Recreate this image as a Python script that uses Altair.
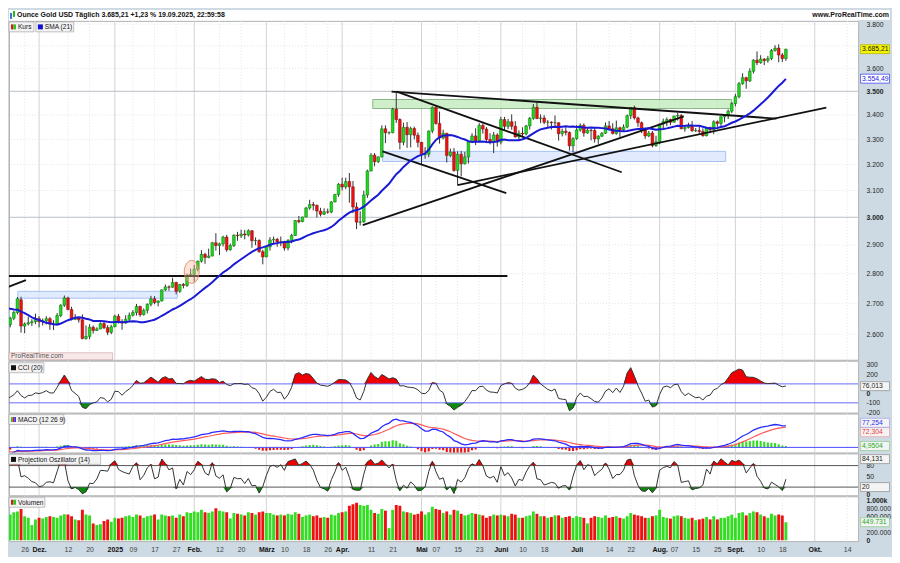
import altair as alt
import numpy as np
import pandas as pd

FONT = "Liberation Sans"
BG = "#cddae3"

# ---------- warm-up bars (14 Oct - 15 Nov 2024), only used for indicator history ----------
PRE_OPEN = [2656, 2648, 2662, 2674, 2693, 2721, 2720, 2748, 2715, 2736, 2747, 2743, 2774, 2788, 2743, 2736, 2736, 2742, 2659, 2706, 2685, 2618, 2598, 2573, 2565]
PRE_HIGH = [2660, 2673, 2680, 2696, 2722, 2741, 2749, 2758, 2738, 2749, 2749, 2774, 2790, 2790, 2758, 2746, 2750, 2750, 2710, 2709, 2686, 2627, 2618, 2580, 2575]
PRE_LOW = [2640, 2641, 2656, 2664, 2690, 2704, 2716, 2708, 2712, 2724, 2729, 2737, 2772, 2730, 2730, 2728, 2727, 2652, 2643, 2677, 2610, 2589, 2572, 2536, 2554]
PRE_CLOSE = [2648, 2662, 2674, 2693, 2721, 2720, 2748, 2715, 2736, 2747, 2743, 2774, 2788, 2743, 2736, 2736, 2742, 2659, 2706, 2685, 2618, 2598, 2573, 2565, 2563]

# ---------- visible daily candles 18 Nov 2024 - 19 Sep 2025 ----------
OPEN = [
    2563, 2612, 2631, 2651, 2670, 2712, 2626, 2633, 2637, 2640,
    2650, 2640, 2643, 2650, 2632, 2633, 2660, 2694, 2718, 2680, 2648, 2652, 2646, 2586, 2593, 2622, 2612, 2617, 2634, 2621, 2606,
    2624, 2658, 2640, 2636, 2648, 2661, 2670, 2690, 2663, 2677, 2697, 2715, 2703, 2708, 2745, 2755, 2754, 2770, 2740, 2763, 2760, 2794,
    2798, 2815, 2843, 2867, 2856, 2861, 2908, 2898, 2904, 2928, 2883, 2898, 2935, 2933, 2939, 2936, 2951, 2915, 2916, 2876,
    2858, 2893, 2918, 2920, 2911, 2911, 2889, 2916, 2934, 2988, 2984, 3001, 3034, 3047, 3044, 3023, 3011, 3020, 3019, 3057, 3085,
    3124, 3113, 3134, 3114, 3038, 2982, 2983, 3083, 3175, 3237, 3211, 3230, 3343, 3327, 3327, 3424, 3381, 3288, 3349, 3319, 3344, 3317,
    3288, 3239, 3241, 3334, 3431, 3365, 3306, 3325, 3236, 3249, 3177, 3240, 3203, 3230, 3290, 3314, 3295, 3357, 3342, 3300, 3288, 3318,
    3289, 3381, 3353, 3372, 3353, 3310, 3325, 3322, 3355, 3386, 3432, 3385, 3388, 3370, 3370, 3368, 3368, 3323, 3333, 3328, 3274,
    3303, 3338, 3357, 3326, 3337, 3336, 3302, 3313, 3325, 3355, 3343, 3324, 3347, 3339, 3350, 3397, 3431, 3388, 3368, 3337, 3314, 3326, 3275,
    3290, 3363, 3373, 3381, 3370, 3396, 3398, 3343, 3348, 3356, 3335, 3336, 3332, 3315, 3347, 3339, 3372, 3365, 3393, 3397, 3416,
    3448, 3477, 3533, 3559, 3545, 3587, 3636, 3625, 3641, 3634, 3643, 3679, 3690, 3659, 3643]
HIGH = [
    2615, 2639, 2656, 2675, 2721, 2722, 2638, 2656, 2648, 2666,
    2658, 2650, 2658, 2655, 2645, 2668, 2697, 2726, 2722, 2689, 2665, 2654, 2664, 2628, 2632, 2628, 2622, 2638, 2640, 2629, 2630,
    2663, 2665, 2648, 2661, 2670, 2678, 2698, 2692, 2683, 2700, 2725, 2724, 2710, 2746, 2763, 2760, 2786, 2772, 2765, 2768, 2800, 2817,
    2830, 2845, 2882, 2872, 2887, 2911, 2942, 2908, 2933, 2936, 2905, 2938, 2947, 2955, 2954, 2956, 2953, 2927, 2920, 2883,
    2897, 2928, 2930, 2925, 2930, 2915, 2921, 2940, 2990, 3005, 3002, 3038, 3065, 3057, 3047, 3035, 3033, 3032, 3060, 3087, 3128,
    3149, 3149, 3167, 3136, 3055, 3022, 3099, 3180, 3245, 3245, 3232, 3357, 3357, 3332, 3430, 3500, 3386, 3368, 3371, 3352, 3352, 3328,
    3290, 3269, 3336, 3436, 3437, 3414, 3339, 3326, 3263, 3265, 3252, 3253, 3250, 3295, 3325, 3345, 3366, 3365, 3350, 3325, 3330, 3325,
    3392, 3392, 3384, 3403, 3375, 3337, 3349, 3359, 3392, 3446, 3452, 3403, 3399, 3379, 3374, 3398, 3370, 3344, 3350, 3332, 3309,
    3358, 3365, 3365, 3345, 3344, 3346, 3317, 3330, 3369, 3375, 3366, 3377, 3352, 3361, 3402, 3433, 3439, 3393, 3373, 3345, 3334, 3334, 3315,
    3363, 3385, 3390, 3385, 3397, 3409, 3404, 3358, 3368, 3375, 3346, 3359, 3345, 3351, 3352, 3378, 3377, 3394, 3400, 3423, 3454,
    3489, 3540, 3578, 3563, 3600, 3640, 3675, 3658, 3645, 3655, 3686, 3703, 3707, 3668, 3687]
LOW = [
    2562, 2608, 2622, 2645, 2664, 2605, 2603, 2628, 2626, 2632,
    2622, 2628, 2631, 2614, 2613, 2630, 2655, 2688, 2677, 2644, 2645, 2637, 2584, 2583, 2584, 2602, 2610, 2616, 2616, 2597, 2600,
    2622, 2634, 2614, 2633, 2640, 2657, 2660, 2656, 2660, 2667, 2690, 2697, 2690, 2706, 2741, 2742, 2752, 2730, 2735, 2750, 2755, 2790,
    2772, 2808, 2838, 2834, 2853, 2860, 2880, 2864, 2895, 2876, 2880, 2893, 2915, 2925, 2920, 2930, 2890, 2899, 2873, 2832,
    2857, 2880, 2905, 2894, 2896, 2880, 2881, 2906, 2932, 2978, 2982, 3000, 3028, 3025, 2999, 3003, 3008, 3013, 3015, 3055, 3076,
    3100, 3105, 3054, 3015, 2957, 2970, 2980, 3072, 3173, 3193, 3206, 3228, 3285, 3320, 3325, 3367, 3260, 3276, 3266, 3268, 3300, 3268,
    3202, 3223, 3229, 3325, 3360, 3283, 3300, 3208, 3229, 3172, 3120, 3154, 3200, 3204, 3285, 3277, 3288, 3323, 3285, 3280, 3245, 3271,
    3280, 3334, 3342, 3339, 3307, 3294, 3311, 3316, 3340, 3380, 3383, 3366, 3362, 3350, 3340, 3347, 3295, 3312, 3316, 3255, 3247,
    3298, 3331, 3311, 3323, 3296, 3287, 3282, 3309, 3322, 3340, 3320, 3319, 3310, 3332, 3345, 3383, 3381, 3351, 3325, 3302, 3309, 3268, 3270,
    3281, 3346, 3354, 3358, 3368, 3377, 3342, 3331, 3344, 3331, 3330, 3323, 3311, 3312, 3325, 3321, 3351, 3352, 3370, 3383, 3408,
    3436, 3470, 3528, 3511, 3540, 3577, 3614, 3620, 3614, 3625, 3636, 3674, 3627, 3628, 3633]
CLOSE = [
    2612, 2631, 2651, 2670, 2715, 2626, 2633, 2637, 2640, 2650,
    2640, 2643, 2650, 2632, 2633, 2660, 2694, 2718, 2680, 2648, 2652, 2646, 2586, 2593, 2622, 2612, 2617, 2634, 2621, 2606, 2624,
    2658, 2640, 2636, 2648, 2661, 2670, 2690, 2663, 2677, 2697, 2715, 2703, 2708, 2745, 2755, 2754, 2770, 2740, 2763, 2760, 2794, 2798,
    2815, 2843, 2867, 2856, 2861, 2908, 2898, 2904, 2928, 2883, 2898, 2935, 2933, 2939, 2936, 2951, 2915, 2916, 2876, 2858,
    2893, 2918, 2920, 2911, 2911, 2889, 2916, 2934, 2988, 2984, 3001, 3034, 3047, 3044, 3023, 3011, 3020, 3019, 3057, 3085, 3124,
    3113, 3134, 3114, 3038, 2982, 2983, 3083, 3175, 3237, 3211, 3230, 3343, 3327, 3327, 3424, 3381, 3288, 3349, 3319, 3344, 3317, 3288,
    3239, 3241, 3334, 3431, 3365, 3306, 3325, 3236, 3249, 3177, 3240, 3203, 3230, 3290, 3314, 3295, 3357, 3342, 3300, 3288, 3318, 3289,
    3381, 3353, 3372, 3353, 3310, 3325, 3322, 3355, 3386, 3432, 3385, 3388, 3370, 3370, 3368, 3368, 3323, 3333, 3328, 3274, 3303,
    3338, 3357, 3326, 3337, 3336, 3302, 3313, 3325, 3355, 3343, 3324, 3347, 3339, 3350, 3397, 3431, 3388, 3368, 3337, 3314, 3326, 3275, 3290,
    3363, 3373, 3381, 3370, 3396, 3398, 3343, 3348, 3356, 3335, 3336, 3332, 3315, 3347, 3339, 3372, 3365, 3393, 3397, 3416, 3448,
    3477, 3533, 3559, 3545, 3587, 3636, 3625, 3641, 3634, 3643, 3679, 3690, 3659, 3643, 3685.21]
VOLUME_K = [
    620, 680, 640, 700, 720, 780, 600, 560, 380, 520,
    560, 540, 580, 600, 580, 560, 620, 650, 640, 600, 520, 500, 760, 640, 620, 420, 380, 400, 480, 520, 460,
    560, 540, 560, 600, 620, 580, 640, 620, 560, 600, 620, 640, 520, 640, 620, 600, 620, 560, 640, 600, 700, 680,
    720, 700, 760, 700, 680, 720, 800, 740, 720, 700, 540, 680, 660, 640, 620, 700, 680, 640, 700, 720,
    680, 680, 640, 620, 640, 620, 660, 640, 700, 660, 580, 620, 640, 600, 620, 560, 580, 560, 640, 620, 680,
    700, 720, 860, 900, 940, 880, 860, 880, 760, 680, 660, 780, 740, 300, 760, 880, 860, 720, 700, 680, 640, 660,
    720, 640, 700, 840, 780, 760, 680, 720, 640, 760, 740, 660, 620, 640, 680, 660, 640, 620, 560, 600, 640, 620,
    640, 620, 600, 660, 640, 560, 560, 600, 620, 720, 660, 600, 600, 560, 580, 620, 620, 560, 580, 600, 560,
    600, 580, 560, 420, 560, 600, 580, 560, 620, 560, 580, 600, 560, 540, 600, 680, 640, 620, 600, 560, 560, 600, 620,
    760, 580, 560, 540, 600, 620, 600, 560, 540, 560, 500, 520, 540, 580, 520, 600, 520, 560, 560, 600, 640,
    560, 680, 700, 620, 680, 720, 700, 640, 600, 560, 660, 620, 640, 620, 450]

# x-axis ticks (trading-day index -> label)
TICK_IDX = [6, 10, 18, 24, 31, 36, 42, 48, 53, 60, 66, 73, 78, 84, 90, 94, 102, 108, 116, 120, 126, 132,
            138, 144, 150, 159, 168, 174, 182, 186, 192, 198, 203, 210, 216, 225, 234]
TICK_TXT = ["26", "Dez.", "12", "20", "2025", "09", "17", "27", "Feb.", "12", "20", "März", "10", "18", "26",
            "Apr.", "11", "21", "Mai", "07", "15", "23", "Juni", "10", "18", "Juli", "14", "22", "Aug.", "07",
            "15", "25", "Sept.", "10", "18", "Okt.", "14"]
TICK_MAJOR = [0, 1, 0, 0, 1, 0, 0, 0, 1, 0, 0, 1, 0, 0, 0, 1, 0, 0, 1, 0, 0, 0, 1, 0, 0, 1, 0, 0, 1, 0, 0, 0, 1, 0, 0, 1, 0]

# drawn trend lines: (start index, start price) -> (end index, end price)
TL_I0 = [99.7, 126.0, 107.7, 109.1, 105.2, -0.6, -0.6]
TL_P0 = [2971, 3120, 3499, 3499, 3252, 2792, 2745]
TL_I1 = [188.7, 228.2, 214.4, 171.5, 139.5, 139.8, 6.35]
TL_P1 = [3394, 3431, 3385, 3170, 3090, 2792, 2778]
# drawn zones
ZONE_I0 = [102.5, 105.2, 4.1]
ZONE_I1 = [202.0, 200.3, 48.3]
ZONE_P0 = [3427, 3212, 2717]
ZONE_P1 = [3465, 3252, 2740]
ZONE_KIND = ["green", "blue", "blue"]
CIRCLE_I = [52.3]
CIRCLE_P = [2806]

TITLE = "Ounce Gold USD Täglich 3.685,21 +1,23 % 19.09.2025, 22:59:58"

# ---------------- build frames ----------------
N = len(CLOSE)
assert all(len(a) == N for a in (OPEN, HIGH, LOW, VOLUME_K)), [len(a) for a in (OPEN, HIGH, LOW, CLOSE, VOLUME_K)]
npre = len(PRE_CLOSE)
o_all = np.array(PRE_OPEN + OPEN, float)
h_all = np.array(PRE_HIGH + HIGH, float)
l_all = np.array(PRE_LOW + LOW, float)
c_all = np.array(PRE_CLOSE + CLOSE, float)
idx_all = np.arange(len(c_all)) - npre

cs = pd.Series(c_all)
sma21 = cs.rolling(21).mean().to_numpy()
tp = pd.Series((h_all + l_all + c_all) / 3.0)
tp_ma = tp.rolling(20).mean()
tp_md = tp.rolling(20).apply(lambda w: np.mean(np.abs(w - w.mean())), raw=True)
cci = ((tp - tp_ma) / (0.015 * tp_md)).to_numpy()
ema12 = cs.ewm(span=12, adjust=False).mean()
ema26 = cs.ewm(span=26, adjust=False).mean()
macd_s = ema12 - ema26
sig_s = macd_s.ewm(span=9, adjust=False).mean()
macd = macd_s.to_numpy()
sig = sig_s.to_numpy()
hist = macd - sig


def proj_osc(h, l, c, n=14):
    out = np.full(len(c), np.nan)
    xs = np.arange(n)
    back = (n - 1) - xs
    for t in range(n - 1, len(c)):
        hh = h[t - n + 1:t + 1]
        ll = l[t - n + 1:t + 1]
        mh = np.polyfit(xs, hh, 1)[0]
        ml = np.polyfit(xs, ll, 1)[0]
        ub = np.max(hh + back * mh)
        lb = np.min(ll + back * ml)
        out[t] = 100.0 * (c[t] - lb) / (ub - lb) if ub > lb else 50.0
    return out


po = proj_osc(h_all, l_all, c_all, 14)

v = slice(npre, None)
df = pd.DataFrame({
    "i": idx_all[v].astype(float), "o": o_all[v], "h": h_all[v], "l": l_all[v], "c": c_all[v],
    "sma": sma21[v], "cci": cci[v], "macd": macd[v], "sig": sig[v], "hist": hist[v], "po": po[v],
    "vol": np.array(VOLUME_K, float) * 1000.0,
})
df["cci_hi"] = np.maximum(df["cci"], 100)
df["cci_lo"] = np.minimum(df["cci"], -100)
df["po_hi"] = np.maximum(df["po"], 80)
df["po_lo"] = np.minimum(df["po"], 20)
df["c100"] = 100.0
df["cm100"] = -100.0
df["c80"] = 80.0
df["c20"] = 20.0
df["zero"] = 0.0

tick_df = pd.DataFrame({"i": TICK_IDX, "major": TICK_MAJOR})
tl_rows = []
for k in range(len(TL_I0)):
    tl_rows.append({"id": k, "i": TL_I0[k], "p": TL_P0[k]})
    tl_rows.append({"id": k, "i": TL_I1[k], "p": TL_P1[k]})
tl_df = pd.DataFrame(tl_rows)
zone_df = pd.DataFrame({"x0": ZONE_I0, "x1": ZONE_I1, "p0": ZONE_P0, "p1": ZONE_P1, "kind": ZONE_KIND})
circ_df = pd.DataFrame({"i": CIRCLE_I, "p": CIRCLE_P})
grid_df = pd.DataFrame({"p": list(range(2600, 3900, 100))})
grid_df["major"] = grid_df["p"].isin([3000, 3500]).astype(int)
ONE = pd.DataFrame({"k": [0]})

# ---------------- scales / axes ----------------
W = 852
PX = 3.62
X0 = 1.66
X1 = X0 + W / PX
SC_X = alt.Scale(domain=[X0, X1], nice=False, zero=False, padding=0)

major_idx = [str(t) for t, m in zip(TICK_IDX, TICK_MAJOR) if m]
major_test = "indexof([" + ",".join(major_idx) + "], datum.value) >= 0"
xexpr = "''"
for t, s in reversed(list(zip(TICK_IDX, TICK_TXT))):
    xexpr = "datum.value == %d ? '%s' : (%s)" % (t, s, xexpr)
AX_X = alt.Axis(orient="bottom", values=TICK_IDX, labelExpr=xexpr, grid=False, ticks=False, domain=False,
                labelFontSize=7, labelPadding=4, minExtent=14, maxExtent=14, labelOverlap=False,
                labelFlush=False, labelFont=FONT,
                labelFontWeight={"condition": {"test": major_test, "value": "bold"}, "value": "normal"},
                labelColor={"condition": {"test": major_test, "value": "#111111"}, "value": "#444444"})


def xq(field, axis=None):
    if axis is None:
        return alt.X(field, type="quantitative", scale=SC_X, axis=None, title=None)
    return alt.X(field, type="quantitative", scale=SC_X, axis=axis, title=None)


def yaxis(values, expr, bold_test):
    return alt.Axis(orient="right", values=values, labelExpr=expr, grid=False, ticks=False, domain=False,
                    labelFontSize=6.8, labelColor="#222222", labelPadding=8, minExtent=32, maxExtent=32,
                    labelFont=FONT, labelAlign="left", labelBaseline="middle", labelOverlap=False,
                    labelFontWeight={"condition": {"test": bold_test, "value": "bold"}, "value": "normal"})


def make_y(scale, axis):
    def f(field):
        return alt.Y(field, type="quantitative", scale=scale, axis=axis, title=None)
    return f


BOX_SHAPE = "M-1,-0.31H1V0.31H-1Z"
BOX_SIZE = 841


def vbox(value, label, yfn, fill, stroke, tcolor, yoff=0):
    d = pd.DataFrame({"v": [value]})
    base = alt.Chart(d)
    b = base.mark_point(shape=BOX_SHAPE, size=BOX_SIZE, filled=True, fill=fill, stroke=stroke,
                        strokeWidth=0.7, opacity=1, yOffset=yoff).encode(x=alt.value(W + 17), y=yfn("v"))
    t = base.mark_text(align="left", baseline="middle", fontSize=6.8, color=tcolor, dy=yoff).encode(
        x=alt.value(W + 4), y=yfn("v"), text=alt.value(label))
    return [b, t]


def legend_box(x0, width, label, icons, y0=1):
    base = alt.Chart(ONE)
    layers = [base.mark_rect(fill="#f3f3f3", stroke="#9a9a9a", strokeWidth=0.6).encode(
        x=alt.value(x0), x2=alt.value(x0 + width), y=alt.value(y0), y2=alt.value(y0 + 10))]
    iw = 5.0 / len(icons)
    for k, col in enumerate(icons):
        layers.append(base.mark_rect(fill=col).encode(
            x=alt.value(x0 + 2 + k * iw), x2=alt.value(x0 + 2 + (k + 1) * iw),
            y=alt.value(y0 + 2.5), y2=alt.value(y0 + 7.5)))
    layers.append(base.mark_text(align="left", baseline="middle", fontSize=6.6, color="#111111").encode(
        x=alt.value(x0 + 9), y=alt.value(y0 + 5.5), text=alt.value(label)))
    return layers


def vgrid(axis=None):
    minor = alt.Chart(tick_df).transform_filter("datum.major == 0").mark_rule(
        color="#e3e3e3", strokeDash=[1, 2], strokeWidth=1).encode(x=xq("i", axis))
    major = alt.Chart(tick_df).transform_filter("datum.major == 1").mark_rule(
        color="#d3d3d3", strokeWidth=1).encode(x=xq("i", axis))
    return [minor, major]


UP_TEST = "datum.c >= datum.o"
BODY_W = 2.7

# ---------------- title strip ----------------
title_panel = alt.layer(
    alt.Chart(ONE).mark_rect(fill="white").encode(x=alt.value(0), x2=alt.value(W + 32), y=alt.value(0), y2=alt.value(10)),
    alt.Chart(ONE).mark_rect(fill="#3a6fd8").encode(x=alt.value(1), x2=alt.value(3), y=alt.value(3), y2=alt.value(9)),
    alt.Chart(ONE).mark_rect(fill="#22bb22").encode(x=alt.value(4), x2=alt.value(6), y=alt.value(1), y2=alt.value(7)),
    alt.Chart(ONE).mark_text(align="left", baseline="middle", fontSize=7, fontWeight="bold", color="#111111").encode(
        x=alt.value(8), y=alt.value(5.5), text=alt.value(TITLE)),
    alt.Chart(ONE).mark_text(align="right", baseline="middle", fontSize=7, fontWeight="bold", color="#111111").encode(
        x=alt.value(W + 31), y=alt.value(5.5), text=alt.value("www.ProRealTime.com")),
).properties(width=W, height=10, view=alt.ViewBackground(fill="white", stroke="white"))

# ---------------- main price panel ----------------
H_MAIN = 340
SC_MAIN = alt.Scale(type="log", domain=[2520, 3815], nice=False, zero=False, padding=0)
AX_MAIN = yaxis([2600, 2700, 2800, 2900, 3000, 3100, 3200, 3300, 3400, 3500, 3600, 3800],
                "replace(format(datum.value, ',.0f'), ',', '.')",
                "datum.value == 3000 || datum.value == 3500")
ym = make_y(SC_MAIN, AX_MAIN)

main_layers = vgrid() + [
    alt.Chart(grid_df).transform_filter("datum.major == 0").mark_rule(
        color="#e3e3e3", strokeDash=[1, 2], strokeWidth=1).encode(y=ym("p")),
    alt.Chart(grid_df).transform_filter("datum.major == 1").mark_rule(
        color="#b9bfc8", strokeWidth=1).encode(y=ym("p")),
    alt.Chart(zone_df).transform_filter("datum.kind == 'green'").mark_rect(
        fill="#c4ecbd", stroke="#6aa66a", strokeWidth=1, opacity=0.8, clip=True).encode(
        x=xq("x0"), x2="x1", y=ym("p0"), y2="p1"),
    alt.Chart(zone_df).transform_filter("datum.kind == 'blue'").mark_rect(
        fill="#dce7fd", stroke="#93b3f2", strokeWidth=1, opacity=0.8, clip=True).encode(
        x=xq("x0"), x2="x1", y=ym("p0"), y2="p1"),
    alt.Chart(df).mark_rule(color="#333333", strokeWidth=1, clip=True).encode(x=xq("i"), y=ym("l"), y2="h"),
    alt.Chart(df).mark_bar(size=BODY_W, strokeWidth=0.5, opacity=1, clip=True).encode(
        x=xq("i"), y=ym("o"), y2="c",
        fill=alt.condition(UP_TEST, alt.value("#1ed81e"), alt.value("#ee1111")),
        stroke=alt.condition(UP_TEST, alt.value("#0b6a0b"), alt.value("#7a0a0a"))),
    alt.Chart(tl_df).mark_line(color="#111111", strokeWidth=1.8, clip=True).encode(
        x=xq("i"), y=ym("p"), detail="id:N"),
    alt.Chart(df).mark_line(color="#1a1ad6", strokeWidth=2, clip=True).encode(x=xq("i"), y=ym("sma")),
    alt.Chart(circ_df).mark_point(shape="M0,-1A0.65,1,0,1,1,0,1A0.65,1,0,1,1,0,-1Z", size=529, filled=True,
                                  fill="#f6b89a", fillOpacity=0.4, stroke="#e07a50", strokeWidth=0.8,
                                  opacity=1, clip=True).encode(x=xq("i"), y=ym("p")),
    alt.Chart(ONE).mark_rect(fill="#f8e8e8", stroke="#c89a9a", strokeWidth=0.6).encode(
        x=alt.value(0), x2=alt.value(104), y=alt.value(H_MAIN - 7), y2=alt.value(H_MAIN)),
    alt.Chart(ONE).mark_text(align="left", baseline="middle", fontSize=6.6, color="#555555").encode(
        x=alt.value(2), y=alt.value(H_MAIN - 3.3), text=alt.value("ProRealTime.com")),
] + legend_box(0, 25, "Kurs", ["#e01414", "#22cc22"]) + legend_box(27, 38, "SMA (21)", ["#1010d0"]) \
  + vbox(3554.49, "3.554,49", ym, "white", "#3030ff", "#2020e0") \
  + vbox(3685.21, "3.685,21", ym, "#f5f500", "#b0b000", "#111111")
main = alt.layer(*main_layers).properties(width=W, height=H_MAIN)

# ---------------- CCI panel ----------------
SC_CCI = alt.Scale(domain=[-203, 345], nice=False, zero=False, padding=0)
AX_CCI = yaxis([300, 200, 0, -100, -200], "'' + datum.value", "datum.value == 0")
yc = make_y(SC_CCI, AX_CCI)
cci_layers = vgrid() + [
    alt.Chart(df).mark_area(color="#ee0000", opacity=1, clip=True).encode(x=xq("i"), y=yc("cci_hi"), y2="c100"),
    alt.Chart(df).mark_area(color="#0b8a0b", opacity=1, clip=True).encode(x=xq("i"), y=yc("cci_lo"), y2="cm100"),
    alt.Chart(pd.DataFrame({"v": [100, -100]})).mark_rule(color="#6a6aff", strokeWidth=1).encode(y=yc("v")),
    alt.Chart(df).mark_line(color="#333333", strokeWidth=1, clip=True).encode(x=xq("i"), y=yc("cci")),
] + legend_box(0, 35, "CCI (20)", ["#111111"], y0=2) + vbox(76.013, "76,013", yc, "#f4f4f4", "#8a8a8a", "#222222")
cci_panel = alt.layer(*cci_layers).properties(width=W, height=52)

# ---------------- MACD panel ----------------
SC_MACD = alt.Scale(domain=[-18, 121], nice=False, zero=False, padding=0)
AX_MACD = yaxis([0], "''", "false")
yd = make_y(SC_MACD, AX_MACD)
macd_layers = vgrid() + [
    alt.Chart(df).mark_bar(size=2.1, opacity=1, clip=True).encode(
        x=xq("i"), y=yd("hist"), y2="zero",
        fill=alt.condition("datum.hist >= 0", alt.value("#33dd22"), alt.value("#ee1111"))),
    alt.Chart(pd.DataFrame({"v": [0]})).mark_rule(color="#4a4aff", strokeWidth=1).encode(y=yd("v")),
    alt.Chart(df).mark_line(color="#ff5a5a", strokeWidth=1.2, clip=True).encode(x=xq("i"), y=yd("sig")),
    alt.Chart(df).mark_line(color="#2a2aff", strokeWidth=1.3, clip=True).encode(x=xq("i"), y=yd("macd")),
] + legend_box(0, 55, "MACD (12 26 9)", ["#22cc22", "#e01414", "#3030ff"], y0=1) \
  + vbox(4.9504, "4,9504", yd, "#f4f4f4", "#88cc88", "#22aa22") \
  + vbox(72.304, "72,304", yd, "#f4f4f4", "#f0a0a0", "#ee3333", yoff=5) \
  + vbox(77.254, "77,254", yd, "#f4f4f4", "#a0a0f0", "#3030ee", yoff=-3)
macd_panel = alt.layer(*macd_layers).properties(width=W, height=39)

# ---------------- Projection oscillator ----------------
SC_PO = alt.Scale(domain=[-2.8, 113.9], nice=False, zero=False, padding=0)
AX_PO = yaxis([80, 50, 0], "'' + datum.value", "datum.value == 0")
yp = make_y(SC_PO, AX_PO)
po_layers = vgrid() + [
    alt.Chart(df).mark_area(color="#ee0000", opacity=1, clip=True).encode(x=xq("i"), y=yp("po_hi"), y2="c80"),
    alt.Chart(df).mark_area(color="#0b8a0b", opacity=1, clip=True).encode(x=xq("i"), y=yp("po_lo"), y2="c20"),
    alt.Chart(pd.DataFrame({"v": [80, 20]})).mark_rule(color="#555555", strokeWidth=1).encode(y=yp("v")),
    alt.Chart(df).mark_line(color="#333333", strokeWidth=1, clip=True).encode(x=xq("i"), y=yp("po")),
] + legend_box(0, 92, "Projection Oszillator (14)", ["#111111"], y0=1) \
  + vbox(20, "20", yp, "#f4f4f4", "#8a8a8a", "#222222") \
  + vbox(84.131, "84,131", yp, "#f4f4f4", "#8a8a8a", "#222222", yoff=-5)
po_panel = alt.layer(*po_layers).properties(width=W, height=42)

# ---------------- Volume ----------------
SC_VOL = alt.Scale(domain=[-25000, 1100000], nice=False, zero=False, padding=0)
AX_VOL = yaxis([0, 200000, 600000, 800000, 1000000],
               "datum.value == 1000000 ? '1.000k' : replace(format(datum.value, ',.0f'), ',', '.')",
               "datum.value == 0 || datum.value == 1000000")
yv = make_y(SC_VOL, AX_VOL)
vol_layers = vgrid(AX_X) + [
    alt.Chart(df).mark_bar(size=2.9, opacity=1, clip=True).encode(
        x=xq("i", AX_X), y=yv("vol"), y2="zero",
        fill=alt.condition(UP_TEST, alt.value("#33dd22"), alt.value("#ee1111"))),
] + legend_box(0, 36, "Volumen", ["#e01414", "#22cc22"], y0=1) \
  + vbox(449731, "449.731", yv, "#f4f4f4", "#88cc88", "#22aa22")
vol_panel = alt.layer(*vol_layers).properties(width=W, height=45)

chart = alt.vconcat(title_panel, main, cci_panel, macd_panel, po_panel, vol_panel,
                    spacing=1, bounds="flush").properties(
    padding=0, background=BG
).configure(font=FONT).configure_view(stroke="#b4b4b4", strokeWidth=1, fill="white")

chart.save("out.html", embed_options={"renderer": "svg", "actions": False})
